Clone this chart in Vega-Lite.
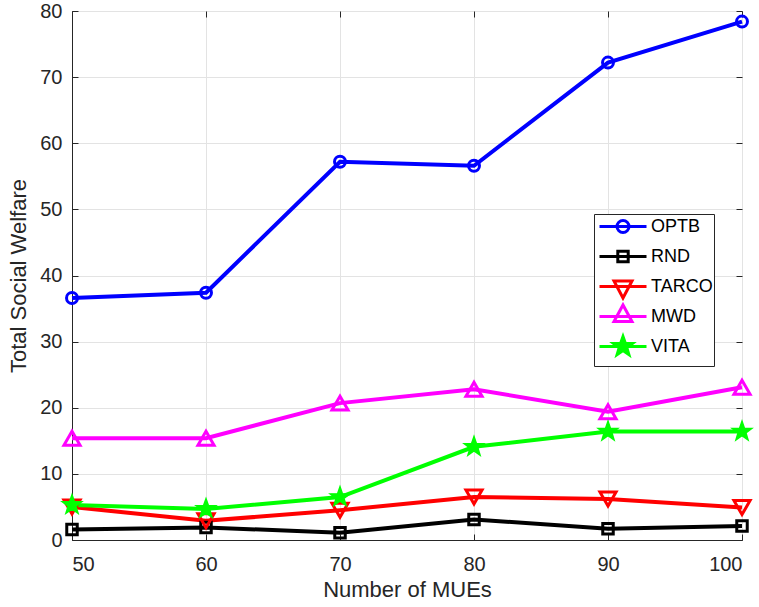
{
  "$schema": "https://vega.github.io/schema/vega-lite/v6.json",
  "width": 670,
  "height": 529,
  "autosize": "none",
  "padding": {"left": 72, "top": 11, "right": 17, "bottom": 67},
  "background": "white",
  "config": {
    "font": "Liberation Sans",
    "view": {"stroke": "#262626", "strokeWidth": 1},
    "axis": {
      "labelFontSize": 20,
      "titleFontSize": 22,
      "titleFontWeight": "normal",
      "labelColor": "#262626",
      "titleColor": "#262626",
      "domainColor": "#262626",
      "tickColor": "#262626",
      "gridColor": "#e3e3e3",
      "tickSize": -6,
      "labelFont": "Liberation Sans",
      "titleFont": "Liberation Sans"
    }
  },
  "data": {
    "values": [
      {"series": "OPTB", "mues": 50, "welfare": 36.6},
      {"series": "OPTB", "mues": 60, "welfare": 37.4},
      {"series": "OPTB", "mues": 70, "welfare": 57.2},
      {"series": "OPTB", "mues": 80, "welfare": 56.6},
      {"series": "OPTB", "mues": 90, "welfare": 72.2},
      {"series": "OPTB", "mues": 100, "welfare": 78.4},
      {"series": "RND", "mues": 50, "welfare": 1.6},
      {"series": "RND", "mues": 60, "welfare": 1.9},
      {"series": "RND", "mues": 70, "welfare": 1.1},
      {"series": "RND", "mues": 80, "welfare": 3.1},
      {"series": "RND", "mues": 90, "welfare": 1.7},
      {"series": "RND", "mues": 100, "welfare": 2.1},
      {"series": "TARCO", "mues": 50, "welfare": 5.0},
      {"series": "TARCO", "mues": 60, "welfare": 2.9},
      {"series": "TARCO", "mues": 70, "welfare": 4.5},
      {"series": "TARCO", "mues": 80, "welfare": 6.5},
      {"series": "TARCO", "mues": 90, "welfare": 6.2},
      {"series": "TARCO", "mues": 100, "welfare": 4.9},
      {"series": "MWD", "mues": 50, "welfare": 15.4},
      {"series": "MWD", "mues": 60, "welfare": 15.4},
      {"series": "MWD", "mues": 70, "welfare": 20.7},
      {"series": "MWD", "mues": 80, "welfare": 22.8},
      {"series": "MWD", "mues": 90, "welfare": 19.4},
      {"series": "MWD", "mues": 100, "welfare": 23.1},
      {"series": "VITA", "mues": 50, "welfare": 5.3},
      {"series": "VITA", "mues": 60, "welfare": 4.7},
      {"series": "VITA", "mues": 70, "welfare": 6.5},
      {"series": "VITA", "mues": 80, "welfare": 14.1},
      {"series": "VITA", "mues": 90, "welfare": 16.4},
      {"series": "VITA", "mues": 100, "welfare": 16.4}
    ]
  },
  "resolve": {"axis": {"x": "independent", "y": "independent"}},
  "layer": [
    {
      "mark": {"type": "line", "strokeWidth": 4},
      "encoding": {
        "x": {"field": "mues", "type": "quantitative", "scale": {"domain": [50, 100], "nice": false},
          "axis": {"title": "Number of MUEs", "values": [50, 60, 70, 80, 90, 100], "labelPadding": 20, "titlePadding": 5, "grid": true}},
        "y": {"field": "welfare", "type": "quantitative", "scale": {"domain": [0, 80], "nice": false},
          "axis": {"title": "Total Social Welfare", "values": [0, 10, 20, 30, 40, 50, 60, 70, 80], "labelPadding": 16, "titlePadding": 9, "grid": true}},
        "color": {"field": "series", "type": "nominal",
          "scale": {"domain": ["OPTB", "RND", "TARCO", "MWD", "VITA"], "range": ["#0000ff", "#000000", "#ff0000", "#ff00ff", "#00ff00"]},
          "legend": {"title": null, "orient": "none", "legendX": 522, "legendY": 203, "padding": 1, "strokeColor": "#262626", "fillColor": "white",
            "labelFontSize": 18, "labelColor": "#000000", "labelFont": "Liberation Sans", "symbolSize": 400, "symbolStrokeWidth": 3, "labelOffset": 33, "rowPadding": -25,
            "encode": {"symbols": {"update": {
              "shape": {"signal": "'M-1.4,-1.2M-1.4,1.2M4.5,0' + (datum.value === 'OPTB' ? 'M-0.7,0H4M2.25,0A0.6,0.6 0 1,1 1.05,0A0.6,0.6 0 1,1 2.25,0' : datum.value === 'RND' ? 'M-0.7,0H4M1.13,-0.52H2.17V0.52H1.13Z' : datum.value === 'TARCO' ? 'M-0.7,0H4M0.75,-0.55H2.55L1.65,1.15Z' : datum.value === 'MWD' ? 'M-0.7,0H4M0.75,0.5H2.55L1.65,-1.15Z' : 'M-0.7,0H4M1.65,-1L1.885,-0.324L2.601,-0.309L2.03,0.124L2.238,0.809L1.65,0.4L1.062,0.809L1.27,0.124L0.699,-0.309L1.415,-0.324Z')"},
              "fill": {"signal": "datum.value === 'VITA' ? '#00ff00' : 'transparent'"}
            }}}}},
        "order": {"field": "mues", "type": "quantitative"}
      }
    },
    {
      "transform": [{"filter": "datum.series == 'OPTB'"}],
      "mark": {"type": "point", "shape": "circle", "filled": false, "stroke": "#0000ff", "strokeWidth": 3, "size": 120, "opacity": 1},
      "encoding": {
        "x": {"field": "mues", "type": "quantitative", "axis": null},
        "y": {"field": "welfare", "type": "quantitative", "axis": null}
      }
    },
    {
      "transform": [{"filter": "datum.series == 'RND'"}],
      "mark": {"type": "point", "shape": "square", "filled": false, "stroke": "#000000", "strokeWidth": 3, "size": 110, "opacity": 1},
      "encoding": {
        "x": {"field": "mues", "type": "quantitative", "axis": null},
        "y": {"field": "welfare", "type": "quantitative", "axis": null}
      }
    },
    {
      "transform": [{"filter": "datum.series == 'TARCO'"}],
      "mark": {"type": "point", "shape": "triangle-down", "filled": false, "stroke": "#ff0000", "strokeWidth": 3, "size": 260, "opacity": 1},
      "encoding": {
        "x": {"field": "mues", "type": "quantitative", "axis": null},
        "y": {"field": "welfare", "type": "quantitative", "axis": null}
      }
    },
    {
      "transform": [{"filter": "datum.series == 'MWD'"}],
      "mark": {"type": "point", "shape": "triangle-up", "filled": false, "stroke": "#ff00ff", "strokeWidth": 3, "size": 260, "opacity": 1},
      "encoding": {
        "x": {"field": "mues", "type": "quantitative", "axis": null},
        "y": {"field": "welfare", "type": "quantitative", "axis": null}
      }
    },
    {
      "transform": [{"filter": "datum.series == 'VITA'"}],
      "mark": {"type": "point", "shape": "M0,-1L0.235,-0.324L0.951,-0.309L0.38,0.124L0.588,0.809L0,0.4L-0.588,0.809L-0.38,0.124L-0.951,-0.309L-0.235,-0.324Z", "filled": true, "fill": "#00ff00", "stroke": "#00ff00", "strokeWidth": 1.5, "size": 420, "opacity": 1},
      "encoding": {
        "x": {"field": "mues", "type": "quantitative",
          "axis": {"orient": "top", "title": null, "labels": false, "grid": false, "domain": false, "values": [50, 60, 70, 80, 90, 100]}},
        "y": {"field": "welfare", "type": "quantitative",
          "axis": {"orient": "right", "title": null, "labels": false, "grid": false, "domain": false, "values": [0, 10, 20, 30, 40, 50, 60, 70, 80]}}
      }
    }
  ]
}
